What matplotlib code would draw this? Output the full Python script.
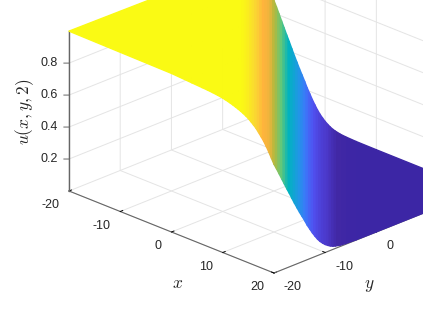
"""Surface plot of a travelling front u(x, y, 2) seen from a corner."""

import matplotlib

matplotlib.use("Agg")
import matplotlib.pyplot as plt
import numpy as np
from matplotlib.colors import LinearSegmentedColormap
from mpl_toolkits.mplot3d import proj3d

# front position x + y and height
FRONT_S = [-40, -20, -16, -14, -13, -12, -11, -10, -9.5, -9, -8.5, -8, -7.5, -7,
           -6.5, -6, -5.5, -5, -4.5, -4, -3.5, -3, -2.5, -2, -1.5, -1, -0.5, 0,
           0.5, 1, 1.5, 2, 2.5, 3, 3.5, 4, 4.5, 5, 5.5, 6, 6.5, 7, 7.5, 8, 8.5,
           9, 9.5, 10, 10.5, 11, 11.5, 12, 13, 14, 16, 20, 40]
FRONT_U = [1.0, 0.992, 0.984, 0.98, 0.978, 0.975, 0.971, 0.966, 0.962, 0.958,
           0.953, 0.948, 0.942, 0.936, 0.929, 0.921, 0.912, 0.902, 0.889, 0.875,
           0.86, 0.84, 0.82, 0.798, 0.772, 0.743, 0.712, 0.68, 0.645, 0.608,
           0.57, 0.533, 0.495, 0.46, 0.422, 0.385, 0.35, 0.315, 0.283, 0.25,
           0.215, 0.185, 0.155, 0.128, 0.103, 0.082, 0.065, 0.05, 0.038, 0.028,
           0.02, 0.015, 0.008, 0.005, 0.002, 0.001, 0.0]

XY_TICKS = [-20, -10, 0, 10, 20]
X_LABELS = [-20, -10, 0, 10, 20]
Y_LABELS = [-20, -10, 0]  # the rest falls outside the picture
Z_TICKS = [0.2, 0.4, 0.6, 0.8]

CMAP_STOPS = [
    (0.0, "#3c26a5"), (0.01, "#4128a5"), (0.04, "#4b37c8"), (0.15, "#5050f0"),
    (0.25, "#3c78fa"), (0.335, "#2196e6"), (0.48, "#00b4be"), (0.59, "#64c878"),
    (0.685, "#b4b93c"), (0.75, "#f0b43c"), (0.81, "#ffb43c"), (0.87, "#fad732"),
    (0.93, "#fafa14"), (1.0, "#fafa14"),
]

WIDTH, HEIGHT = 423, 317
TEXT_COLOR = "#262626"
AXIS_COLOR = "#666666"


def strip_grid(s_values):
    """Corner points of the strips that run along x + y = s across the square."""
    s = np.asarray(s_values, dtype=float)
    x0 = np.where(s < 0, -20.0, s - 20)
    y0 = np.where(s < 0, s + 20, 20.0)
    x1 = np.where(s < 0, s + 20, 20.0)
    y1 = np.where(s < 0, -20.0, s - 20)
    return np.column_stack([x0, x1]), np.column_stack([y0, y1])


def to_pixels(ax, x, y, z):
    px, py, _ = proj3d.proj_transform(x, y, z, ax.get_proj())
    return ax.transData.transform((px, py))


def fit_axes(ax):
    """Size and shift the axes so the front floor edge lands where it should."""
    ax.apply_aspect()
    a = to_pixels(ax, -20, -20, 0)
    b = to_pixels(ax, 20, -20, 0)
    target_a = np.array([69.0, HEIGHT - 191.0])
    target_b = np.array([274.0, HEIGHT - 273.0])
    size = ax.get_position().width * WIDTH * np.linalg.norm(target_b - target_a) / np.linalg.norm(b - a)
    ax.set_position([0, 0, size / WIDTH, size / HEIGHT])
    ax.apply_aspect()
    shift = target_a - to_pixels(ax, -20, -20, 0)
    ax.set_position([shift[0] / WIDTH, shift[1] / HEIGHT, size / WIDTH, size / HEIGHT])
    ax.apply_aspect()


def draw_tick_labels(ax):
    # mplot3d keeps its z axis on the far right here, so the left one is drawn by hand
    ax.plot([-20, -20], [-20, -20], [0, 1], color=AXIS_COLOR, lw=1.0)
    for z in Z_TICKS:
        ax.plot([-20, -20.5], [-20, -20.5], [z, z], color=AXIS_COLOR, lw=0.7)
        ax.text(-21.07, -21.07, z, str(z), ha="right", va="center", fontsize=9,
                color=TEXT_COLOR)
    for t in X_LABELS:
        ax.text(t + 2.55, -24.5, 0, str(t), ha="right", va="center", fontsize=9,
                color=TEXT_COLOR)
    for t in Y_LABELS:
        ax.text(24.5, t - 2.55, 0, str(t), ha="left", va="center", fontsize=9,
                color=TEXT_COLOR)


def main():
    plt.rcParams["font.family"] = ["Liberation Sans", "DejaVu Sans"]
    plt.rcParams["mathtext.fontset"] = "cm"
    plt.rcParams["axes3d.automargin"] = False

    fig = plt.figure(figsize=(WIDTH / 100, HEIGHT / 100), dpi=100)
    ax = fig.add_axes([0, 0, 400 / WIDTH, 400 / HEIGHT], projection="3d")
    ax.set_proj_type("ortho")
    ax.view_init(elev=23.6, azim=-45.02)
    ax.set_box_aspect((1, 1, 0.602))

    cmap = LinearSegmentedColormap.from_list("front", CMAP_STOPS, N=512)
    x_grid, y_grid = strip_grid(FRONT_S)
    z_grid = np.column_stack([FRONT_U, FRONT_U])
    surf = ax.plot_surface(x_grid, y_grid, z_grid, cmap=cmap, vmin=0, vmax=1,
                           rstride=1, cstride=1, shade=False, antialiased=True)
    surf.set_edgecolor("face")
    surf.set_linewidth(1.0)

    ax.set_xlim(-20, 20, view_margin=0)
    ax.set_ylim(-20, 20, view_margin=0)
    ax.set_zlim(0, 1, view_margin=0)
    ax.set_autoscale_on(False)
    ax.set_xticks(XY_TICKS)
    ax.set_yticks(XY_TICKS)
    ax.set_zticks(Z_TICKS)

    for axis in (ax.xaxis, ax.yaxis, ax.zaxis):
        axis.set_major_formatter(plt.NullFormatter())
        for tick in axis.get_major_ticks():
            tick.label1.set_visible(False)
        axis.set_pane_color((1, 1, 1, 0))
        axis.pane.set_edgecolor((1, 1, 1, 0))
        axis.line.set_color(AXIS_COLOR)
        axis.line.set_linewidth(0.8)
        axis._axinfo["grid"].update(color="#e4e4e4", linewidth=0.7)
        axis._axinfo["tick"].update(inward_factor=0.0, outward_factor=0.15,
                                    color=AXIS_COLOR, linewidth={True: 0.7, False: 0.7})

    draw_tick_labels(ax)
    fit_axes(ax)

    fig.text(25 / WIDTH, 1 - 112 / HEIGHT, r"$u(x,y,2)$", rotation=90, fontsize=12.5,
             color=TEXT_COLOR, ha="center", va="center")
    fig.text(178 / WIDTH, 1 - 284 / HEIGHT, r"$x$", fontsize=12.5, color=TEXT_COLOR,
             ha="center", va="center")
    fig.text(369 / WIDTH, 1 - 286 / HEIGHT, r"$y$", fontsize=12.5, color=TEXT_COLOR,
             ha="center", va="center")

    fig.savefig("out.png", dpi=100)


if __name__ == "__main__":
    main()
